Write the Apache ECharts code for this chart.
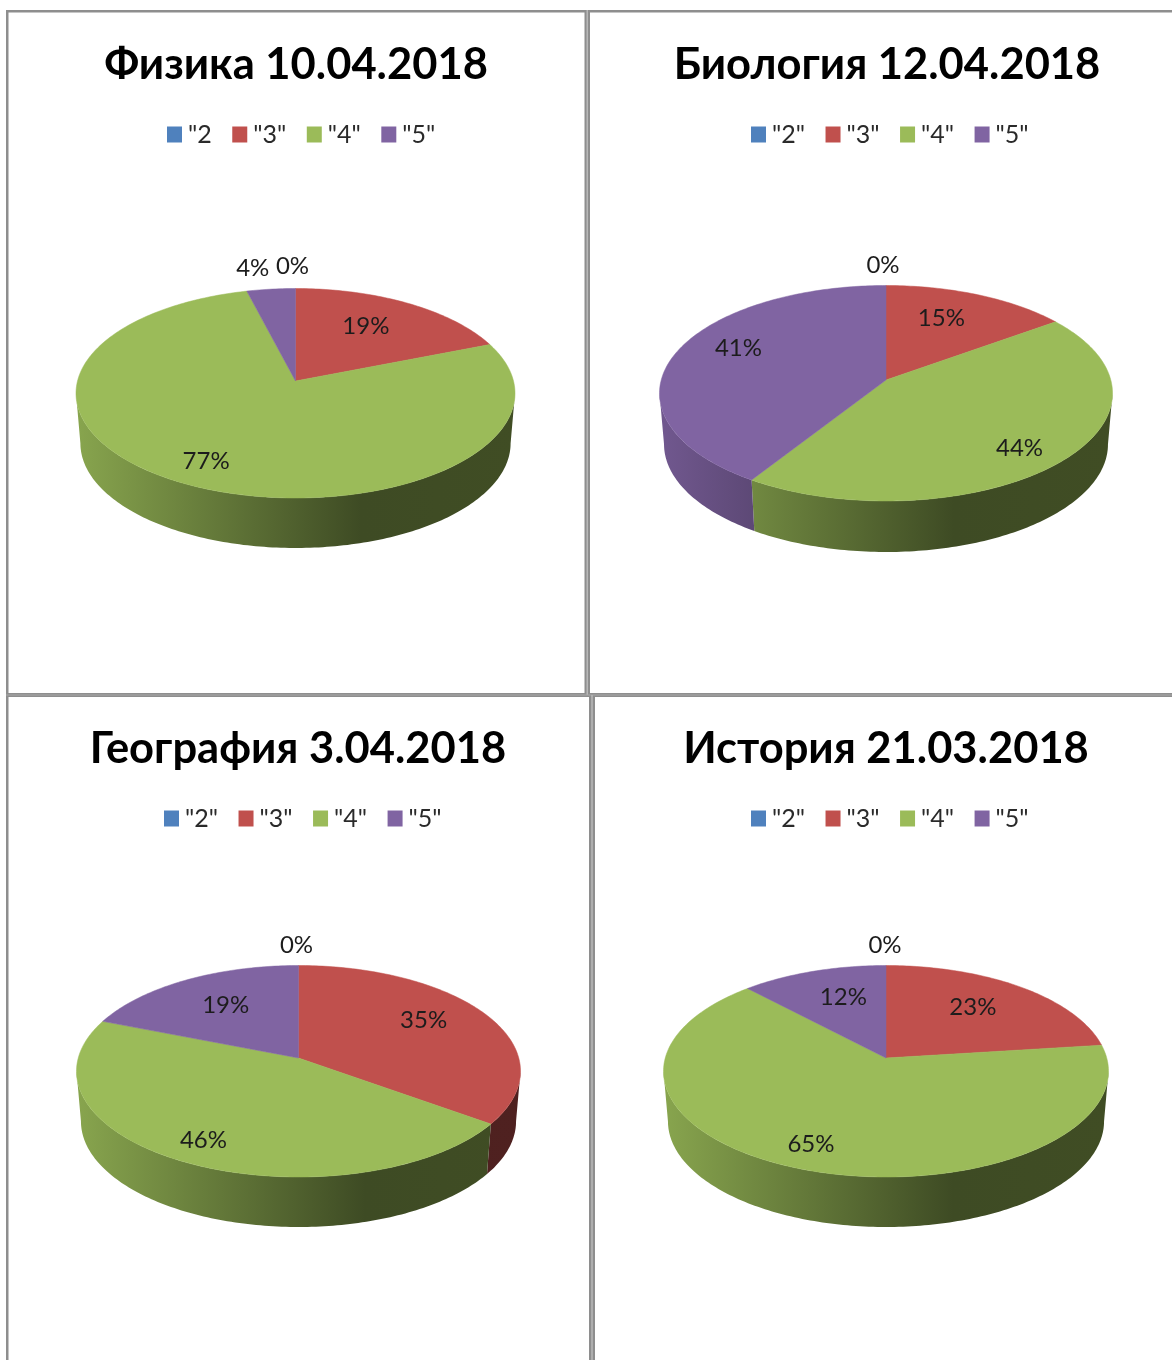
<!DOCTYPE html>
<html>
<head>
<meta charset="utf-8">
<title>Итоги контрольных работ</title>
<script src="https://cdn.jsdelivr.net/npm/echarts@6/dist/echarts.min.js"></script>
<style>
  html, body { margin: 0; padding: 0; background: #fff; }
  #chart { width: 1172px; height: 1360px; }
</style>
</head>
<body>
<div id="chart"></div>
<script>
const titles = ['Физика 10.04.2018', 'Биология 12.04.2018', 'География 3.04.2018', 'История 21.03.2018']
const categories = ['"2"', '"3"', '"4"', '"5"']
const physicsCategories = ['"2', '"3"', '"4"', '"5"']
const physicsValues = [0, 19, 77, 4]
const biologyValues = [0, 15, 44, 41]
const geographyValues = [0, 35, 46, 19]
const historyValues = [0, 23, 65, 12]

const panelValues = [physicsValues, biologyValues, geographyValues, historyValues]
const panelCategories = [physicsCategories, categories, categories, categories]
const colors = ['#4F81BD', '#C0504D', '#9BBB59', '#8064A2']

// pie placement on the page: apex, top and bottom of the lid ellipse
const pieLayouts = [
  { cx: 295.5, apexY: 381, topY: 288.5, bottomY: 498, rx: 219.5, depth: 50 },
  { cx: 886, apexY: 380, topY: 285.5, bottomY: 501, rx: 226.5, depth: 51 },
  { cx: 298.5, apexY: 1058, topY: 965.5, bottomY: 1177, rx: 222, depth: 50 },
  { cx: 886, apexY: 1058, topY: 965.5, bottomY: 1177, rx: 222.5, depth: 50 }
]
const titlePositions = [[296, 43], [887, 43], [298, 727], [886, 727]]
const legendPositions = [[167, 122], [751, 122], [164, 806], [751, 806]]
// radius of each label as a share of the pie, then a shift in pixels
const labelRadius = [
  [1.2, 0.7, 0.8, 1.2],
  [1.2, 0.7, 0.8, 0.7],
  [1.2, 0.7, 0.8, 0.7],
  [1.2, 0.7, 0.8, 0.7]
]
const labelShift = [
  [[-3, -6], [-10, 1], [-3, 0], [-14, -5]],
  [[-3, -4], [-11, 0], [-7, 6], [0, -11]],
  [[-2, -4], [-7, -6], [-2, 2], [8, 3]],
  [[-1, -4], [-9, 1], [-9, 0], [10, 2]]
]
const borders = [
  [6, 10, 2.5, 1350],
  [6, 10, 1166, 2.5],
  [584.5, 10, 5.5, 685],
  [6, 693, 1166, 4],
  [589, 695, 6, 665]
]

const fontName = 'Lato, "Noto Sans", sans-serif'

function shade(hex, k) {
  const c = echarts.color.parse(hex)
  return 'rgb(' + Math.round(c[0] * k) + ',' + Math.round(c[1] * k) + ',' + Math.round(c[2] * k) + ')'
}

function perspective(l) {
  return (2 * l.apexY - l.bottomY - l.topY) / (l.bottomY - l.topY)
}

// projection of the pie disc: the apex sits above the ellipse centre
function projector(l) {
  const c = perspective(l)
  const ay = (l.bottomY - l.apexY) * (1 + c)
  const ax = l.rx * Math.sqrt(1 - c * c)
  return function(angle, r, drop, inset) {
    const u = r * Math.sin(angle)
    const v = -r * Math.cos(angle)
    const w = 1 + c * v
    return [l.cx + ax * inset * u / w, l.apexY + ay * v / w + drop]
  }
}

function sliceItem(panel, slice) {
  return function(params, api) {
    const value = api.value(0)
    const values = panelValues[panel]
    const total = values.reduce((a, b) => a + b, 0)
    const before = values.slice(0, slice).reduce((a, b) => a + b, 0)
    const start = before / total * Math.PI * 2
    const end = (before + value) / total * Math.PI * 2
    const l = pieLayouts[panel]
    const project = projector(l)
    const children = []
    const color = colors[slice]

    if (value > 0) {
      const lid = [project(0, 0, 0, 1)]
      const steps = Math.max(2, Math.ceil((end - start) / (Math.PI / 180)))
      for (let i = 0; i <= steps; i++) {
        lid.push(project(start + (end - start) * i / steps, 1, 0, 1))
      }
      // only the front of the rim shows, between the two side extremes of the ellipse
      const rightEdge = Math.acos(perspective(l))
      const wallStart = Math.max(start, rightEdge)
      const wallEnd = Math.min(end, Math.PI * 2 - rightEdge)
      if (wallEnd > wallStart) {
        const upper = []
        const lower = []
        const wallSteps = Math.max(2, Math.ceil((wallEnd - wallStart) / (Math.PI / 180)))
        for (let i = 0; i <= wallSteps; i++) {
          const t = wallStart + (wallEnd - wallStart) * i / wallSteps
          upper.push(project(t, 1, 0, 1))
          lower.push(project(t, 1, l.depth, 0.98))
        }
        children.push({
          type: 'polygon',
          z2: 1,
          shape: { points: upper.concat(lower.reverse()) },
          style: {
            fill: new echarts.graphic.LinearGradient(l.cx - l.rx, 0, l.cx + l.rx, 0, [
              { offset: 0, color: shade(color, 0.88) },
              { offset: 0.65, color: shade(color, 0.4) },
              { offset: 1, color: shade(color, 0.41) }
            ], true)
          }
        })
      }
      children.push({
        type: 'polygon',
        z2: 2,
        shape: { points: lid },
        style: { fill: color, stroke: color, lineWidth: 0.5 }
      })
    }

    const labelAt = project((start + end) / 2, labelRadius[panel][slice], 0, 1)
    const shift = labelShift[panel][slice]
    children.push({
      type: 'text',
      z2: 3,
      style: {
        x: labelAt[0] + shift[0],
        y: labelAt[1] + shift[1],
        text: value + '%',
        align: 'center',
        verticalAlign: 'middle',
        fill: '#1c1c1c',
        font: '24px ' + fontName
      }
    })
    return { type: 'group', children: children }
  }
}

const series = []
panelValues.forEach((values, panel) => {
  values.forEach((value, slice) => {
    series.push({
      type: 'custom',
      name: panelCategories[panel][slice],
      coordinateSystem: 'none',
      itemStyle: { color: colors[slice] },
      data: [[value]],
      renderItem: sliceItem(panel, slice),
      silent: true
    })
  })
})

const graphicLines = []
borders.forEach(b => {
  graphicLines.push({
    type: 'rect',
    shape: { x: b[0], y: b[1], width: b[2], height: b[3] },
    style: { fill: '#8e8e8e' }
  })
  // the thick frame lines have a lighter middle
  if (b[2] >= 4 && b[2] < 10) {
    graphicLines.push({
      type: 'rect',
      z: 1,
      shape: { x: b[0] + b[2] / 2 - 0.75, y: b[1], width: 1.5, height: b[3] },
      style: { fill: '#b8b8b8' }
    })
  }
  if (b[3] >= 4 && b[3] < 10) {
    graphicLines.push({
      type: 'rect',
      z: 1,
      shape: { x: b[0], y: b[1] + b[3] / 2 - 0.5, width: b[2], height: 1 },
      style: { fill: '#a8a8a8' }
    })
  }
})

const chart = echarts.init(document.getElementById('chart'))
chart.setOption({
  animation: false,
  backgroundColor: '#fff',
  title: titles.map((t, i) => ({
    text: t,
    left: titlePositions[i][0],
    top: titlePositions[i][1],
    textAlign: 'center',
    padding: 0,
    textStyle: { fontFamily: fontName, fontWeight: 'bold', fontSize: 43.5, color: '#000' }
  })),
  legend: panelCategories.map((names, i) => ({
    data: names,
    left: legendPositions[i][0],
    top: legendPositions[i][1],
    padding: 0,
    icon: 'rect',
    itemWidth: 15,
    itemHeight: 16,
    itemGap: 20.5,
    selectedMode: false,
    textStyle: { fontFamily: fontName, fontSize: 25, color: '#2a2a2a', padding: [0, 0, 0, 1] }
  })),
  graphic: graphicLines,
  series: series
})
</script>
</body>
</html>
